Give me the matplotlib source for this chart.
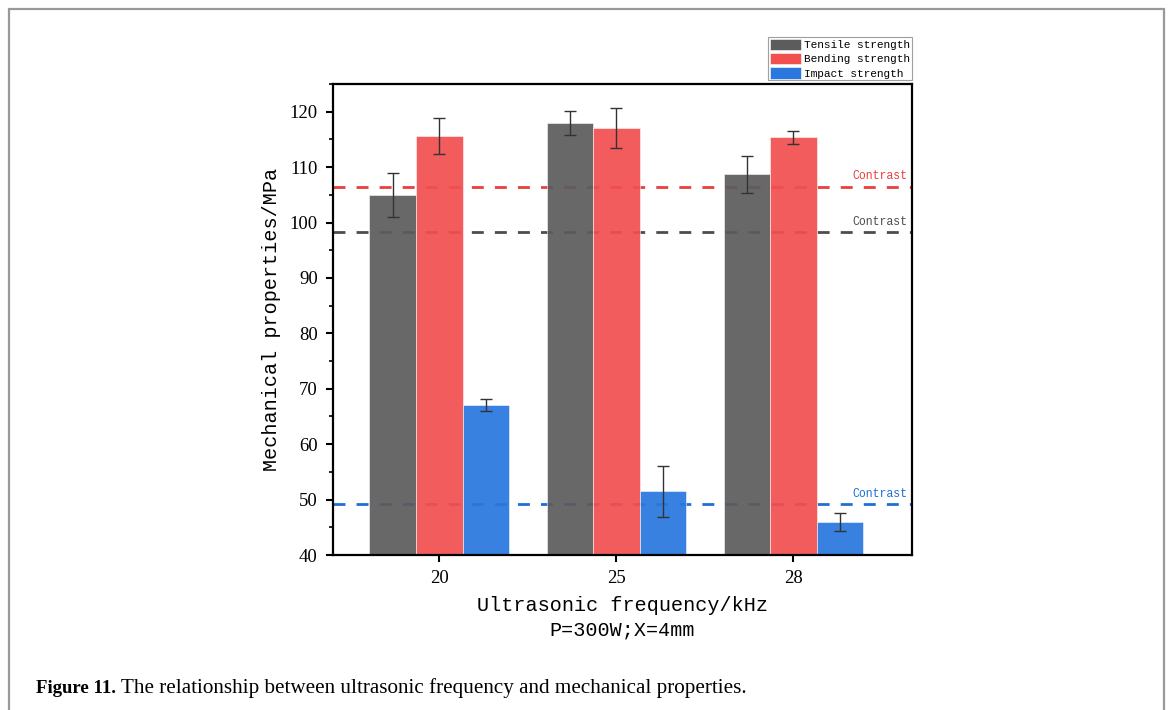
import matplotlib
matplotlib.use("Agg")
import matplotlib.pyplot as plt
from matplotlib.patches import Rectangle
from matplotlib.ticker import MultipleLocator
import numpy as np

# data
frequencies = ["20", "25", "28"]
tensile = [105.0, 118.0, 108.7]
tensile_err = [4.0, 2.2, 3.3]
bending = [115.6, 117.1, 115.4]
bending_err = [3.3, 3.6, 1.2]
impact = [67.1, 51.5, 45.9]
impact_err = [1.1, 4.6, 1.6]
series_names = ["Tensile strength", "Bending strength", "Impact strength"]
contrast = [98.3, 106.5, 49.2]  # tensile, bending, impact baselines

bar_colors = ["#5C5C5C", "#F24F4F", "#2A78DE"]
line_colors = ["#4D4D4D", "#E8403F", "#1F6FD6"]

mono = "Liberation Mono"
serif = "Liberation Serif"

fig = plt.figure(figsize=(11.69, 7.10), dpi=100)
ax = fig.add_axes([0.2849, 0.2183, 0.4953, 0.6634])

x = np.arange(len(frequencies))
w = 0.263

# contrast lines (behind the bars)
for val, c in zip(contrast, line_colors):
    ax.axhline(val, color=c, lw=2.0, ls=(0, (4.3, 4.0)), zorder=1)
    ax.annotate("Contrast", xy=(0.992, val), xycoords=("axes fraction", "data"),
                xytext=(0, 3), textcoords="offset points", ha="right", va="bottom",
                color=c, fontsize=8.3, family=mono)

all_vals = [tensile, bending, impact]
all_errs = [tensile_err, bending_err, impact_err]
for i, (vals, errs) in enumerate(zip(all_vals, all_errs)):
    ax.bar(x + (i - 1) * w, vals, width=w, color=bar_colors[i], alpha=0.93,
           edgecolor="white", linewidth=0.4, label=series_names[i], zorder=2)
    ax.errorbar(x + (i - 1) * w, vals, yerr=errs, fmt="none", ecolor="#333333",
                elinewidth=1.0, capsize=4, capthick=1.0, zorder=3)

ax.set_xlim(-0.6, 2.67)
ax.set_ylim(40, 125)
ax.set_xticks(x)
ax.set_xticklabels(frequencies)
ax.yaxis.set_major_locator(MultipleLocator(10))
ax.yaxis.set_minor_locator(MultipleLocator(5))

for s in ax.spines.values():
    s.set_linewidth(1.6)
ax.tick_params(axis="both", which="major", direction="out", length=5, width=1.5,
               labelsize=13.5, pad=6)
ax.tick_params(axis="y", which="minor", direction="out", length=3, width=1.2)
ax.tick_params(axis="x", which="minor", bottom=False)
for lab in ax.get_xticklabels() + ax.get_yticklabels():
    lab.set_family(serif)

ax.set_ylabel("Mechanical properties/MPa", family=mono, fontsize=14.5, labelpad=6)
ax.set_xlabel("Ultrasonic frequency/kHz\nP=300W;X=4mm", family=mono, fontsize=14.5,
              labelpad=6, linespacing=1.4)

leg = ax.legend(loc="lower right", bbox_to_anchor=(1.0, 1.008),
                prop={"family": mono, "size": 8}, frameon=True, fancybox=False,
                edgecolor="#888888", borderpad=0.15, labelspacing=0.25,
                handlelength=2.8, handleheight=1.2, handletextpad=0.3,
                borderaxespad=0.0)
leg.get_frame().set_linewidth(0.8)
for h in leg.legend_handles:
    h.set_alpha(1)

# page frame and caption
fig.patches.append(Rectangle((9 / 1169, -0.1), 1155 / 1169, 1.1 - 9 / 710,
                             transform=fig.transFigure, fill=False,
                             edgecolor="#999999", lw=1.6))
cap_y = 1 - 693 / 710
t1 = fig.text(36 / 1169, cap_y, "Figure 11.", fontsize=13.5,
              family=serif, weight="bold", va="baseline")
fig.canvas.draw()
bb = t1.get_window_extent()
fig.text(bb.x1 / fig.bbox.width, cap_y,
         " The relationship between ultrasonic frequency and mechanical properties.",
         fontsize=15.2, family=serif, va="baseline")

fig.savefig("out.png", dpi=100)
